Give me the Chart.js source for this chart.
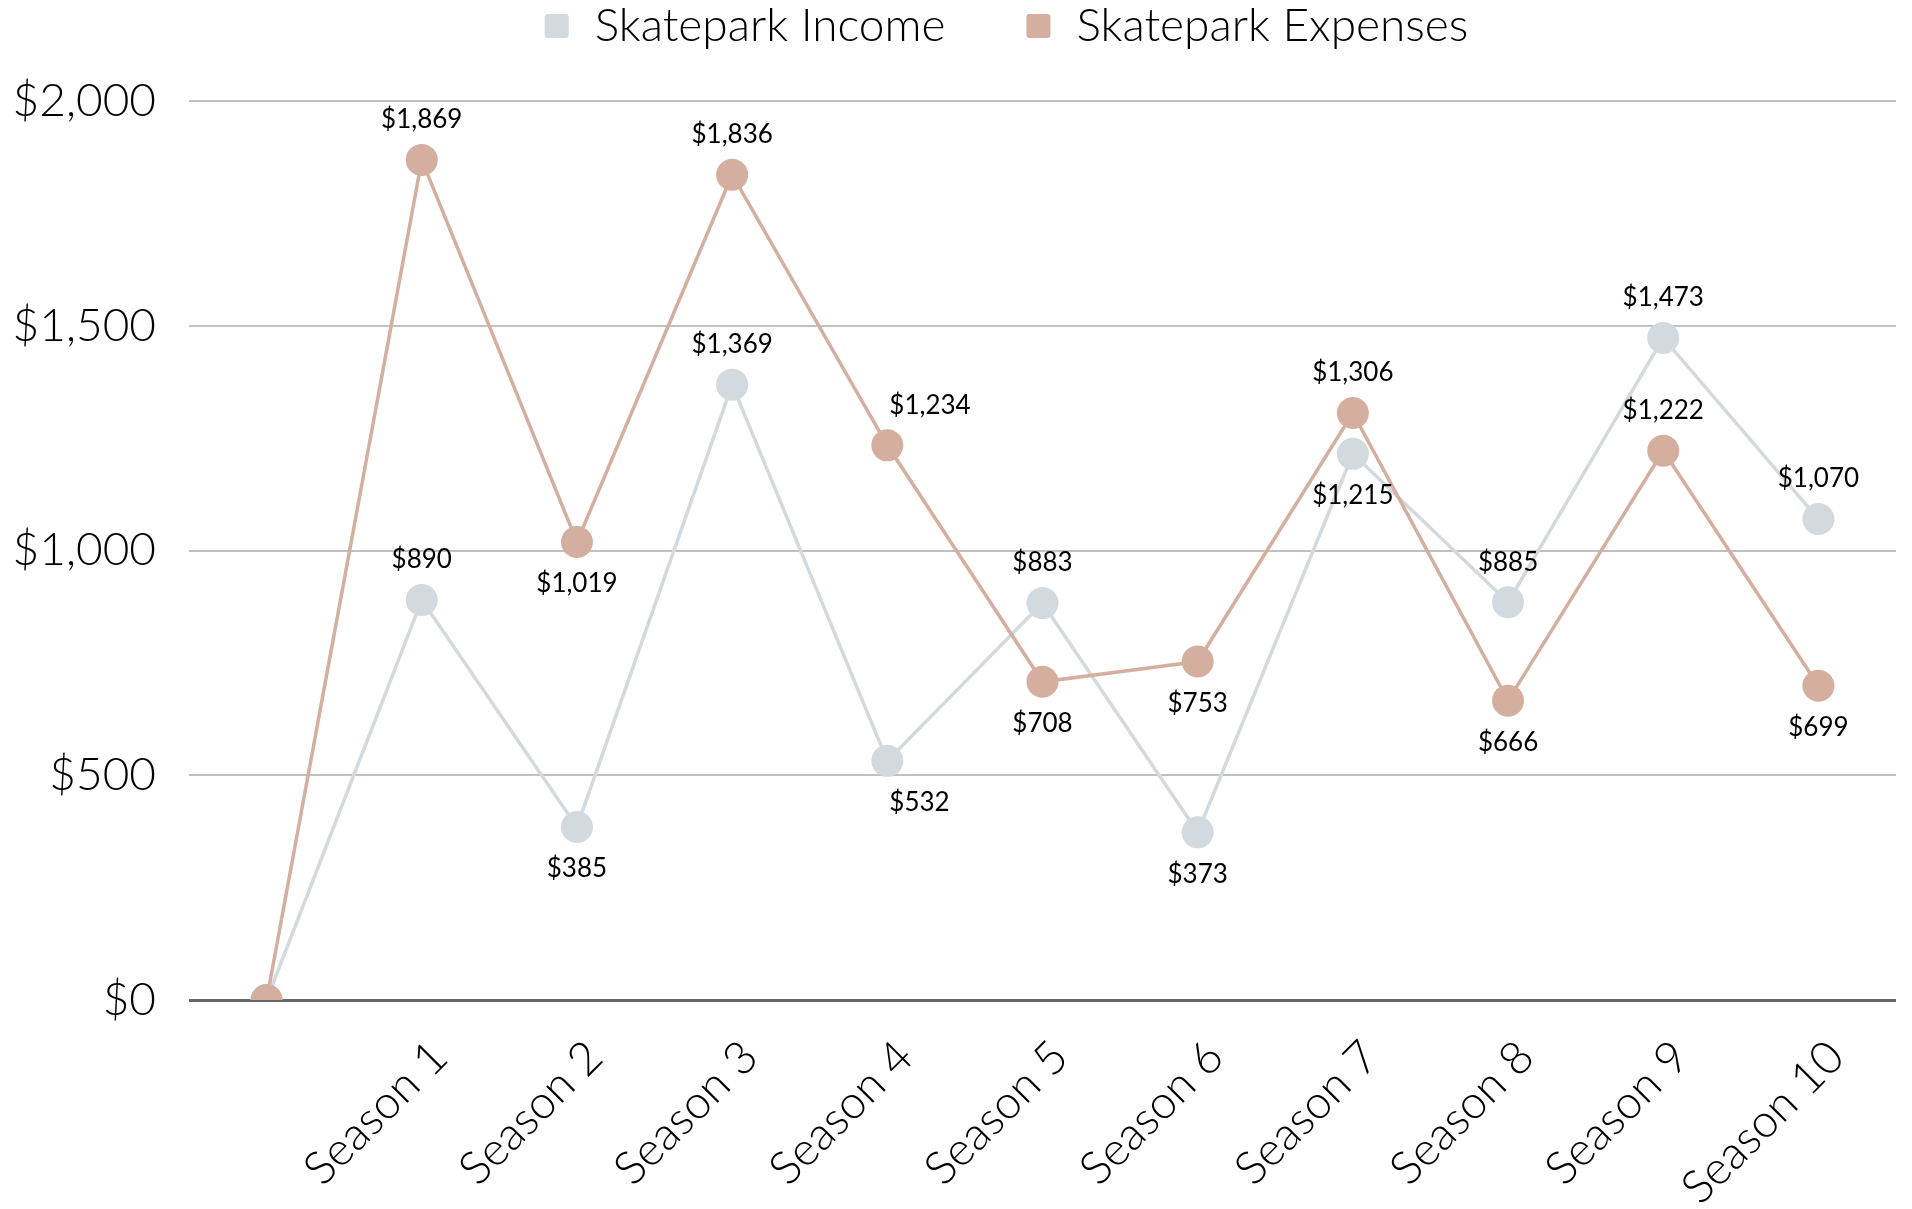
<!DOCTYPE html>
<html>
<head>
<meta charset="utf-8">
<script src="https://cdn.jsdelivr.net/npm/chart.js@4.4.1/dist/chart.umd.min.js"></script>
<style>
    html, body { margin: 0; padding: 0; background: #fff; overflow: hidden; }
    .chart-box { width: 1912px; height: 1209px; }
</style>
</head>
<body>
<div class="chart-box"><canvas id="myChart"></canvas></div>
<script>
// data
const seasons = ['', 'Season 1', 'Season 2', 'Season 3', 'Season 4', 'Season 5', 'Season 6', 'Season 7', 'Season 8', 'Season 9', 'Season 10']
const income = [0, 890, 385, 1369, 532, 883, 373, 1215, 885, 1473, 1070]
const expenses = [0, 1869, 1019, 1836, 1234, 708, 753, 1306, 666, 1222, 699]
const yTicks = [0, 500, 1000, 1500, 2000]

// where each value label sits: up / down, "r" = starts at the point
const incomeLabelPos = ['', 'up', 'down', 'up', 'down-r', 'up', 'down', 'down', 'up', 'up', 'up']
const expensesLabelPos = ['', 'up', 'down', 'up', 'up-r', 'down', 'down', 'up', 'down', 'up', 'down']

const incomeColor = '#d2d9df'
const expensesColor = '#d4afa0'

const money = v => '$' + Number(v).toLocaleString('en-US')

// value labels above / below the points
const pointLabels = {
    id: 'pointLabels',
    afterDatasetsDraw(chart) {
        const ctx = chart.ctx
        ctx.save()
        ctx.font = '400 26px Lato'
        ctx.fillStyle = '#000'
        ctx.textBaseline = 'middle'
        chart.data.datasets.forEach((ds, i) => {
            const meta = chart.getDatasetMeta(i)
            meta.data.forEach((pt, j) => {
                const pos = ds.labelPos[j]
                if (!pos) return
                const dy = pos.startsWith('up') ? -40 : 42
                if (pos.endsWith('-r')) {
                    ctx.textAlign = 'left'
                    ctx.fillText(money(ds.data[j]), pt.x + 2, pt.y + dy)
                } else {
                    ctx.textAlign = 'center'
                    ctx.fillText(money(ds.data[j]), pt.x, pt.y + dy)
                }
            })
        })
        ctx.restore()
    }
}

// extra room under the legend
const legendSpace = {
    id: 'legendSpace',
    beforeLayout(chart) {
        const lg = chart.legend
        if (!lg || lg._spaced) return
        const fit = lg.fit
        lg.fit = function () {
            fit.call(this)
            this.height += 42
        }
        lg._spaced = true
    }
}

Chart.defaults.font.family = 'Lato'
Chart.defaults.color = '#000'

const ctx = document.getElementById('myChart').getContext('2d')
const myChart = new Chart(ctx, {
    type: 'line',
    data: {
        labels: seasons,
        datasets: [{
            label: 'Skatepark Income',
            data: income,
            labelPos: incomeLabelPos,
            borderColor: incomeColor,
            backgroundColor: incomeColor,
            pointBackgroundColor: incomeColor,
            pointBorderWidth: 0,
            pointRadius: 16,
            pointHoverRadius: 16,
            borderWidth: 3.5,
            tension: 0,
            order: 2
        }, {
            label: 'Skatepark Expenses',
            data: expenses,
            labelPos: expensesLabelPos,
            borderColor: expensesColor,
            backgroundColor: expensesColor,
            pointBackgroundColor: expensesColor,
            pointBorderWidth: 0,
            pointRadius: 16,
            pointHoverRadius: 16,
            borderWidth: 3.5,
            tension: 0,
            order: 1
        }]
    },
    options: {
        responsive: true,
        maintainAspectRatio: false,
        animation: false,
        layout: {
            padding: { left: 12, right: -15, top: 0, bottom: 0 }
        },
        scales: {
            x: {
                offset: true,
                grid: { display: false },
                border: { display: false },
                afterFit: axis => {
                    axis.height = 209
                    axis.paddingLeft = 0
                    axis.paddingRight = 0
                },
                ticks: {
                    minRotation: 45,
                    maxRotation: 45,
                    padding: 22,
                    labelOffset: 18,
                    font: { size: 46, weight: 300 },
                    color: '#000'
                }
            },
            y: {
                min: 0,
                max: 2000,
                afterBuildTicks: axis => {
                    axis.ticks = yTicks.map(v => ({ value: v }))
                },
                afterFit: axis => { axis.width = 177 },
                border: { display: false },
                grid: {
                    drawTicks: false,
                    color: c => c.tick && c.tick.value === 0 ? '#666666' : '#c0c0c0',
                    lineWidth: c => c.tick && c.tick.value === 0 ? 3 : 2
                },
                ticks: {
                    padding: 33,
                    font: { size: 46, weight: 300 },
                    color: '#000',
                    callback: v => money(v)
                }
            }
        },
        plugins: {
            tooltip: { enabled: false },
            legend: {
                display: true,
                position: 'top',
                fullSize: false,
                labels: {
                    boxWidth: 30,
                    boxHeight: 30,
                    padding: 3,
                    useBorderRadius: true,
                    borderRadius: 6,
                    color: '#000',
                    font: { size: 46, weight: 300 },
                    generateLabels(chart) {
                        const items = Chart.defaults.plugins.legend.labels.generateLabels(chart)
                        items.sort((a, b) => a.datasetIndex - b.datasetIndex)
                        items.forEach(it => {
                            it.strokeStyle = '#ffffff'
                            it.lineWidth = 6
                        })
                        items[0].text += '      '
                        items[1].text += '      '
                        return items
                    }
                }
            }
        }
    },
    plugins: [pointLabels, legendSpace]
})
</script>
</body>
</html>
